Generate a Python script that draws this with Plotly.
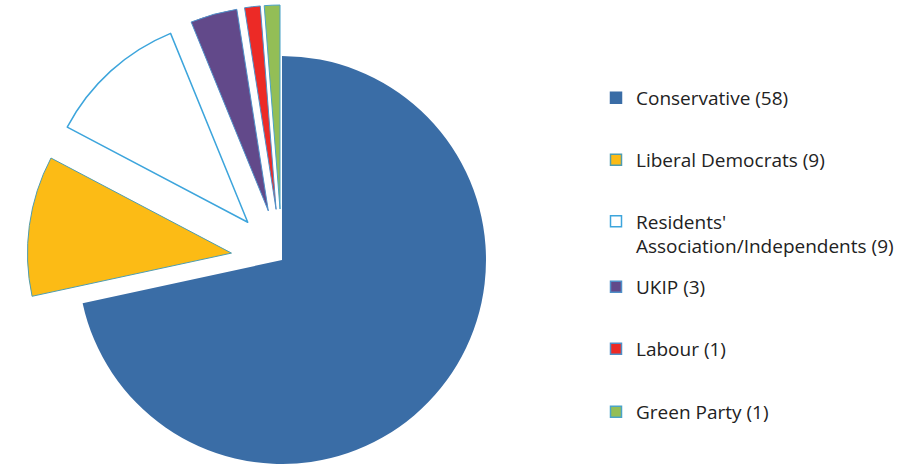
import math
import plotly.graph_objects as go

# ---- data ----
parties = ["Conservative", "Liberal Democrats", "Residents' Association/Independents",
           "UKIP", "Labour", "Green Party"]
legend_text = ["Conservative (58)", "Liberal Democrats (9)",
               "Residents'<br>Association/Independents (9)",
               "UKIP (3)", "Labour (1)", "Green Party (1)"]
seats = [58, 9, 9, 3, 1, 1]
exploded = [False, True, True, True, True, True]

# ---- styles ----
fill_colors = ["#3A6DA6", "#FCBB15", "#FFFFFF", "#62498A", "#EC2A26", "#93BE56"]
edge_colors = ["#3A6DA6", "#4F9DB0", "#3DA5DC", "#4F8FC8", "#4F8FC8", "#4AA3C8"]
edge_widths = [0, 1, 1.5, 1, 1, 1]
legend_y_px = [98, 160, 234, 287, 349, 412]

W, H = 900, 464
CX, CY, R = 282, 260, 204      # pie centre and radius (px)
PULL_PX = 51                   # explode distance (px)
LEG_X_PX = 596

total = sum(seats)
fig = go.Figure()

cum = 0
for i, v in enumerate(seats):
    mid = math.radians((cum + v / 2) / total * 360)
    cum += v
    dx = PULL_PX * math.sin(mid) if exploded[i] else 0.0
    dy = -PULL_PX * math.cos(mid) if exploded[i] else 0.0
    cx, cy = CX + dx, CY + dy
    xd = [max(0.0, (cx - R) / W), min(1.0, (cx + R) / W)]
    yd = [max(0.0, 1 - (cy + R) / H), min(1.0, 1 - (cy - R) / H)]
    cols = ["rgba(0,0,0,0)"] * len(seats)
    cols[i] = fill_colors[i]
    lcols = ["rgba(0,0,0,0)"] * len(seats)
    lcols[i] = edge_colors[i]
    lw = [0] * len(seats)
    lw[i] = edge_widths[i]
    fig.add_trace(go.Pie(
        labels=parties, values=seats, sort=False, direction="clockwise",
        rotation=0, textinfo="none", showlegend=False,
        marker=dict(colors=cols, line=dict(color=lcols, width=lw)),
        domain=dict(x=xd, y=yd), hoverinfo="label+value",
    ))

# legend entries (one legend per entry so spacing matches the original)
layout_legends = {}
for i, name in enumerate(legend_text):
    key = "legend" if i == 0 else f"legend{i + 1}"
    fig.add_trace(go.Scatter(
        x=[None], y=[None], mode="markers", name=name, legend=key,
        marker=dict(symbol="square", size=11, color=fill_colors[i],
                    line=dict(color=edge_colors[i] if i else fill_colors[i], width=1.5)),
    ))
    layout_legends[key] = dict(
        x=LEG_X_PX / W, y=1 - legend_y_px[i] / H, xanchor="left", yanchor="middle",
        bgcolor="rgba(0,0,0,0)", borderwidth=0, itemwidth=30,
        valign="top",
        font=dict(family="Open Sans", size=19, color="#222222"),
    )

fig.update_layout(
    width=W, height=H,
    margin=dict(l=0, r=0, t=0, b=0, autoexpand=False),
    paper_bgcolor="white", plot_bgcolor="white",
    xaxis=dict(visible=False), yaxis=dict(visible=False),
    **layout_legends,
)

fig.write_html("out.html")
